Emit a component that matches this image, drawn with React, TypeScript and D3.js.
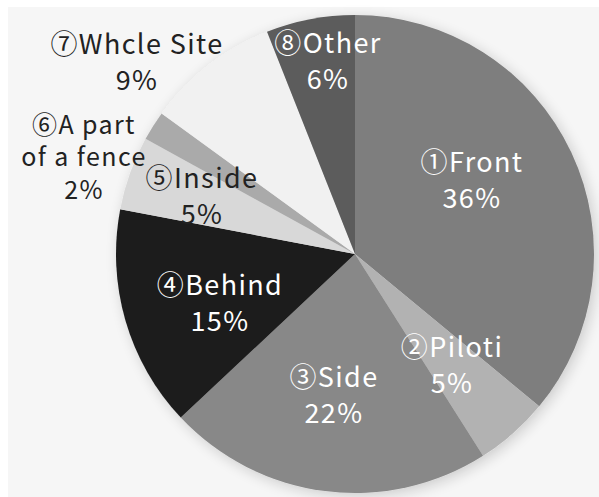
import React from "react";
import * as d3 from "d3";

const categories = ["①Front", "②Piloti", "③Side", "④Behind", "⑤Inside", "⑥A part of a fence", "⑦Whcle Site", "⑧Other"];
const values = [36, 5, 22, 15, 5, 2, 9, 6];
const labelLines = [
  ["①Front", "36%"],
  ["②Piloti", "5%"],
  ["③Side", "22%"],
  ["④Behind", "15%"],
  ["⑤Inside", "5%"],
  ["⑥A part", "of a fence", "2%"],
  ["⑦Whcle Site", "9%"],
  ["⑧Other", "6%"],
];
const colors = ["#7e7e7e", "#b2b2b2", "#888888", "#1f1f1f", "#d8d8d8", "#aaaaaa", "#f1f1f1", "#5b5b5b"];
const textColors = ["#ffffff", "#ffffff", "#ffffff", "#ffffff", "#222222", "#222222", "#222222", "#ffffff"];
// label anchor offsets relative to pie centre (layout, not data)
const labelOffsets: [number, number][] = [
  [117, -76], [97, 109], [-21, 139], [-135, 47], [-153, -60], [-271, -99], [-218, -194], [-27, -195],
];

const W = 599, H = 497;
const cx = 355, cy = 254, R = 239;

export default function App() {
  const pie = d3.pie<number>().sort(null).value((d) => d)(values);
  const arc = d3.arc<d3.PieArcDatum<number>>().innerRadius(0).outerRadius(R);
  const font = "'Noto Sans CJK JP', 'Noto Sans', sans-serif";
  return (
    <svg width={W} height={H} style={{ position: "absolute", left: 0, top: 0 }}>
      <defs>
        <filter id="sh" x="-20%" y="-20%" width="140%" height="140%">
          <feGaussianBlur in="SourceAlpha" stdDeviation="7" />
          <feOffset dx="3" dy="3" result="b" />
          <feComponentTransfer><feFuncA type="linear" slope="0.18" /></feComponentTransfer>
          <feMerge><feMergeNode /><feMergeNode in="SourceGraphic" /></feMerge>
        </filter>
      </defs>
      <rect x={0} y={0} width={W} height={H} fill="#ffffff" />
      <rect x={8} y={7} width={W - 8} height={H - 7} fill="#f6f6f6" />
      <g transform={`translate(${cx},${cy})`}>
        <g filter="url(#sh)">
          {pie.map((p, i) => (
            <path key={categories[i]} d={arc(p) || ""} fill={colors[i]} />
          ))}
        </g>
        {pie.map((p, i) => {
          const [dx, dy] = labelOffsets[i];
          const lines = labelLines[i];
          const lh = lines.length > 2 ? 32.5 : 36.5;
          const y0 = dy - ((lines.length - 1) * lh) / 2;
          return (
            <text key={"t" + i} x={dx} y={y0} fill={textColors[i]} fontFamily={font} fontSize={lines.length > 2 ? 25 : 27} letterSpacing={1.4} textAnchor="middle" dominantBaseline="central">
              {lines.map((l, j) => (
                <tspan key={j} x={dx} y={y0 + j * lh}>{l}</tspan>
              ))}
            </text>
          );
        })}
      </g>
    </svg>
  );
}
